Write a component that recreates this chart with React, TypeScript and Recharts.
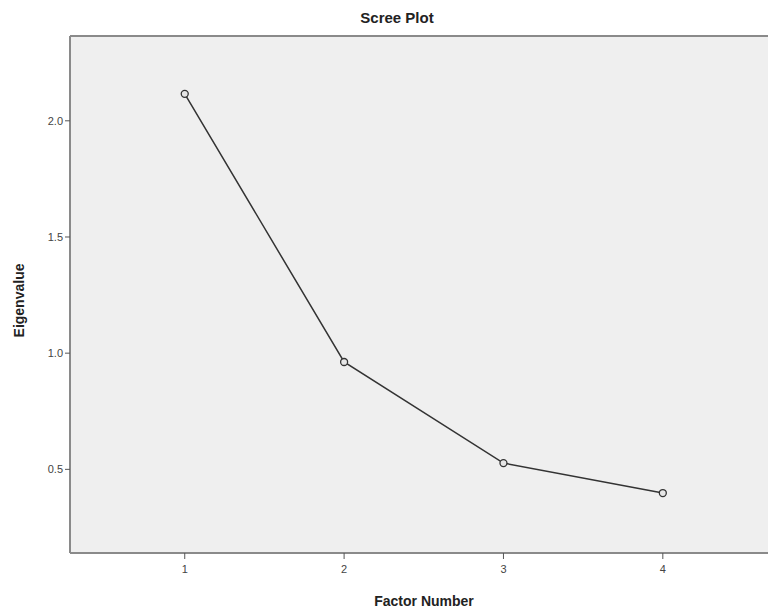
import { LineChart, Line, XAxis, YAxis, CartesianGrid, ReferenceLine, Label } from "recharts";

const factors = [1, 2, 3, 4];
const eigenvalues = [2.116, 0.962, 0.527, 0.398];
const xTicks = [1, 2, 3, 4];
const yTicks = [0.5, 1.0, 1.5, 2.0];

const data = factors.map((f, i) => ({ factor: f, value: eigenvalues[i] }));

const FONT = "'Liberation Sans', Arial, sans-serif";
const Y_MAX = 2.365;

export default function App() {
  return (
    <div style={{ position: "absolute", left: 0, top: 0, width: 768, height: 611, background: "#fff", fontFamily: FONT }}>
      <div
        style={{
          position: "absolute",
          left: 0,
          width: 794,
          top: 9,
          textAlign: "center",
          fontWeight: "bold",
          fontSize: 15,
          color: "#222",
        }}
      >
        Scree Plot
      </div>
      <LineChart width={768} height={611} data={data} margin={{ top: 36, right: 0, bottom: 0, left: 0 }}>
        <CartesianGrid fill="#efefef" stroke="none" horizontal={false} vertical={false} />
        <XAxis
          dataKey="factor"
          type="number"
          domain={[0.28, 4.66]}
          ticks={xTicks}
          allowDataOverflow
          height={58}
          axisLine={{ stroke: "#8a8a8a", strokeWidth: 2 }}
          tickLine={{ stroke: "#555" }}
          tickSize={6}
          tick={{ fill: "#444", fontSize: 11, fontFamily: FONT, dy: 4 }}
        >
          <Label value="Factor Number" position="insideBottom" offset={5} dx={5} style={{ fontWeight: "bold", fontSize: 14, fill: "#222", fontFamily: FONT }} />
        </XAxis>
        <YAxis
          type="number"
          domain={[0.14, Y_MAX]}
          ticks={yTicks}
          allowDataOverflow
          width={70}
          tickFormatter={(v: number) => v.toFixed(1)}
          axisLine={{ stroke: "#8a8a8a", strokeWidth: 2 }}
          tickLine={{ stroke: "#555" }}
          tickSize={5}
          tick={{ fill: "#444", fontSize: 11, fontFamily: FONT }}
        >
          <Label value="Eigenvalue" angle={-90} position="insideLeft" offset={19} dy={6} style={{ textAnchor: "middle", fontWeight: "bold", fontSize: 14, fill: "#222", fontFamily: FONT }} />
        </YAxis>
        <ReferenceLine y={Y_MAX} stroke="#8a8a8a" strokeWidth={2} />
        <Line
          dataKey="value"
          stroke="#333"
          strokeWidth={1.5}
          isAnimationActive={false}
          dot={{ r: 3.5, stroke: "#333", strokeWidth: 1.3, fill: "#e6e6e6" }}
          activeDot={false}
        />
      </LineChart>
    </div>
  );
}
